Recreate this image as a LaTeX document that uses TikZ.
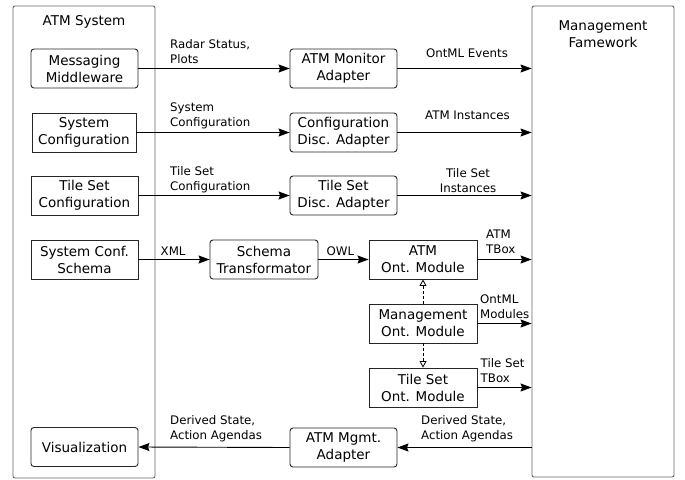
\documentclass[tikz,border=0pt]{standalone}
\usepackage{fontspec}
\setmainfont{DejaVu Sans}
\usetikzlibrary{arrows.meta}
\begin{document}
\begin{tikzpicture}[x=1pt,y=-1pt,
  box/.style={draw=black!85, line width=0.9pt, minimum width=107pt, minimum height=39pt,
    align=center, inner sep=0pt, font=\fontsize{13.5}{17}\selectfont},
  rbox/.style={box, rounded corners=3pt},
  outer/.style={draw=black!60, line width=0.9pt, rounded corners=2pt, minimum width=142pt, inner sep=0pt},
  ttl/.style={inner sep=0pt, align=center, font=\fontsize{13.5}{17}\selectfont},
  lbl/.style={inner sep=0pt, font=\fontsize{11.8}{15}\selectfont},
  arr/.style={line width=0.9pt, -{Stealth[length=11pt,width=8pt,inset=1.5pt]}},
  darr/.style={line width=0.8pt, dashed, dash pattern=on 3pt off 2pt, -{Triangle[open,length=6.5pt,width=7pt,fill=white]}}
]
\useasboundingbox (0,0) rectangle (685,479);

% outer boxes
\node[outer, minimum height=472pt] (atm) at (84,242) {};
\node[outer, minimum height=471pt] (mf) at (603,241.5) {};
\node[ttl, anchor=base] (atmt) at (84,25.5) {ATM System};
\node[ttl, anchor=north] (mft) at (603,20) {Management\\Famework};

% left column
\node[rbox] (mm) at (84.5,68.5) {Messaging\\Middleware};
\node[box, minimum width=104pt] (sc) at (84,132.5) {System\\Configuration};
\node[box] (tsc) at (84.5,195.5) {Tile Set\\Configuration};
\node[box] (scs) at (84.5,259.5) {System Conf.\\Schema};
\node[rbox] (vis) at (84.5,447) {Visualization};

% middle column
\node[rbox] (mon) at (343.5,68.5) {ATM Monitor\\Adapter};
\node[rbox] (cda) at (343.5,132.5) {Configuration\\Disc. Adapter};
\node[rbox] (tda) at (343.5,195.5) {Tile Set\\Disc. Adapter};
\node[rbox, minimum width=108pt] (st) at (264,259.5) {Schema\\Transformator};
\node[box, minimum width=108pt] (ato) at (423,259.5) {ATM\\Ont. Module};
\node[box, minimum width=108pt] (mgo) at (423,323.5) {Management\\Ont. Module};
\node[box, minimum width=108pt] (tso) at (423,387.5) {Tile Set\\Ont. Module};
\node[rbox] (amg) at (343.5,447.5) {ATM Mgmt.\\Adapter};

% connectors
\draw[arr] (mm.east) -- (mon.west);
\draw[arr] (sc.east) -- (cda.west);
\draw[arr] (tsc.east) -- (tda.west);
\draw[arr] (scs.east) -- (st.west);
\draw[arr] (st.east) -- (ato.west);
\draw[arr] (mon.east) -- (mon.east -| mf.west);
\draw[arr] (cda.east) -- (cda.east -| mf.west);
\draw[arr] (tda.east) -- (tda.east -| mf.west);
\draw[arr] (ato.east) -- (ato.east -| mf.west);
\draw[arr] (mgo.east) -- (mgo.east -| mf.west);
\draw[arr] (tso.east) -- (tso.east -| mf.west);
\draw[arr] (mf.west |- amg.east) -- (amg.east);
\draw[arr] (amg.west) -- (vis.east);
\draw[darr] (mgo.north) -- (ato.south);
\draw[darr] (mgo.south) -- (tso.north);

% labels
\node[lbl, anchor=north west, align=left] (l1) at (170,39.5) {Radar Status,\\Plots};
\node[lbl, anchor=north west, align=left] (l2) at (170,102.5) {System\\Configuration};
\node[lbl, anchor=north west, align=left] (l3) at (170,166) {Tile Set\\Configuration};
\node[lbl, anchor=north west] (l4) at (160.5,247) {XML};
\node[lbl, anchor=north west] (l5) at (326.5,247) {OWL};
\node[lbl, anchor=north west, align=left] (l6) at (170,415) {Derived State,\\Action Agendas};
\node[lbl, anchor=north] (r1) at (467,48.5) {OntML Events};
\node[lbl, anchor=north] (r2) at (467.5,111) {ATM Instances};
\node[lbl, anchor=north, align=center] (r3) at (468,168) {Tile Set\\Instances};
\node[lbl, anchor=north west, align=left] (r4) at (486,230) {ATM\\TBox};
\node[lbl, anchor=north west, align=left] (r5) at (480,294.5) {OntML\\Modules};
\node[lbl, anchor=north west, align=left] (r6) at (480.5,358.5) {Tile Set\\TBox};
\node[lbl, anchor=north west, align=left] (r7) at (421,415) {Derived State,\\Action Agendas};
\end{tikzpicture}
\end{document}
